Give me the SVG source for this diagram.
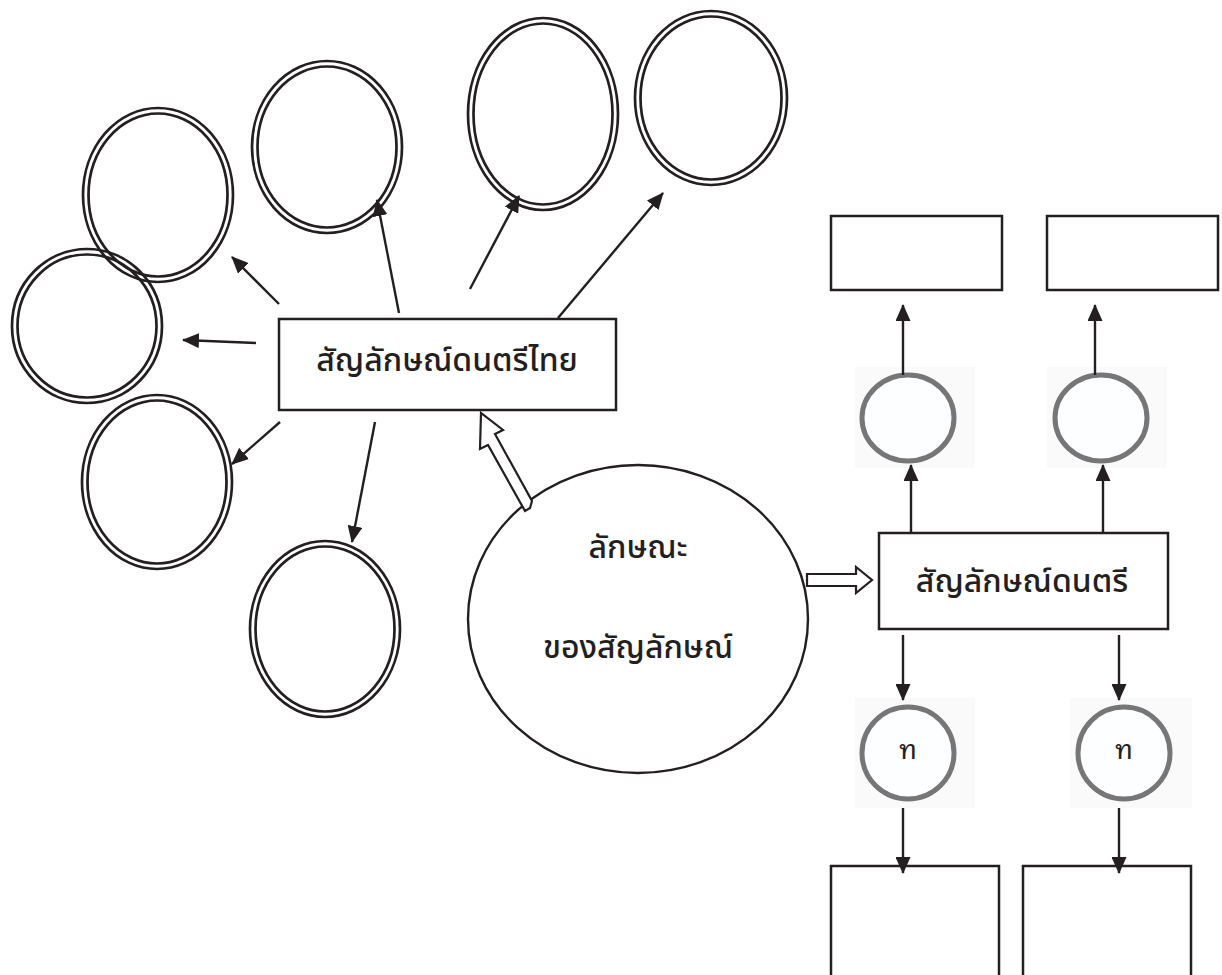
<svg xmlns="http://www.w3.org/2000/svg" width="1222" height="975" viewBox="0 0 1222 975">
<defs>
<style>
.dbl{fill:none;stroke:#231f20;stroke-width:2.7}
.box{fill:#fff;stroke:#231f20;stroke-width:2.5}
.big{fill:#fff;stroke:#231f20;stroke-width:2.4}
.gc{fill:#fdfeff;stroke:#767676;stroke-width:5}
.bg{fill:#fafafa}
.con{fill:none;stroke:#231f20;stroke-width:2.4}
.hol{fill:#fff;stroke:#231f20;stroke-width:2.2}
.t{font-family:"Noto Sans Thai","Noto Sans","Liberation Sans",sans-serif;fill:#231f20;text-anchor:middle;font-weight:500}
.s{font-family:"Noto Sans Thai Looped","Noto Serif Thai","Noto Sans Thai","Noto Sans",sans-serif;fill:#231f20;text-anchor:middle;font-weight:400;font-size:27px}
</style>
<marker id="ah" markerUnits="userSpaceOnUse" markerWidth="17" markerHeight="15" refX="16" refY="7.5" orient="auto">
<path d="M0,0 L17,7.5 L0,15 Z" fill="#231f20"/>
</marker>
</defs>
<rect width="1222" height="975" fill="#fff"/>

<g id="e1"><ellipse class="dbl" cx="158" cy="195" rx="75" ry="87"/><ellipse class="dbl" cx="158" cy="195" rx="69.5" ry="81.5"/></g>
<g id="e2"><ellipse class="dbl" cx="87" cy="326" rx="75" ry="77"/><ellipse class="dbl" cx="87" cy="326" rx="69.5" ry="71.5"/></g>
<g id="e3"><ellipse class="dbl" cx="327" cy="147" rx="75" ry="86"/><ellipse class="dbl" cx="327" cy="147" rx="69.5" ry="80.5"/></g>
<g id="e4"><ellipse class="dbl" cx="543" cy="114" rx="75" ry="96"/><ellipse class="dbl" cx="543" cy="114" rx="69.5" ry="90.5"/></g>
<g id="e5"><ellipse class="dbl" cx="711" cy="98" rx="76" ry="87"/><ellipse class="dbl" cx="711" cy="98" rx="70.5" ry="81.5"/></g>
<g id="e6"><ellipse class="dbl" cx="157" cy="482" rx="75" ry="87"/><ellipse class="dbl" cx="157" cy="482" rx="69.5" ry="81.5"/></g>
<g id="e7"><ellipse class="dbl" cx="325" cy="629" rx="75" ry="88"/><ellipse class="dbl" cx="325" cy="629" rx="69.5" ry="82.5"/></g>

<g id="centerBox"><rect class="box" x="279" y="319" width="337" height="91"/><text class="t" x="447" y="371" font-size="32">สัญลักษณ์ดนตรีไทย</text></g>

<g id="bigCircle"><ellipse class="big" cx="638" cy="619" rx="170" ry="154"/><text class="t" x="638" y="558" font-size="32">ลักษณะ</text><text class="t" x="638" y="658" font-size="32">ของสัญลักษณ์</text></g>

<g id="rightBox"><rect class="box" x="879" y="533" width="289" height="96"/><text class="t" x="1022" y="592" font-size="32">สัญลักษณ์ดนตรี</text></g>

<g id="topBoxA"><rect class="box" x="831" y="216" width="171" height="74"/></g>
<g id="topBoxB"><rect class="box" x="1047" y="216" width="171" height="74"/></g>

<g id="gcA"><rect class="bg" x="855" y="367" width="120" height="101"/><ellipse class="gc" cx="908" cy="418" rx="46" ry="43"/></g>
<g id="gcB"><rect class="bg" x="1047" y="367" width="120" height="101"/><ellipse class="gc" cx="1101" cy="418" rx="46" ry="43"/></g>
<g id="gcC"><rect class="bg" x="855" y="698" width="120" height="110"/><ellipse class="gc" cx="908" cy="753" rx="46" ry="46"/><text class="s" x="908" y="759">ท</text></g>
<g id="gcD"><rect class="bg" x="1070" y="698" width="122" height="110"/><ellipse class="gc" cx="1124" cy="753" rx="46" ry="46"/><text class="s" x="1124" y="759">ท</text></g>

<g id="botBoxA"><path class="box" d="M831,980 L831,866 L999,866 L999,980"/></g>
<g id="botBoxB"><path class="box" d="M1023,980 L1023,866 L1191,866 L1191,980"/></g>

<g id="connectors">
<line class="con" x1="279" y1="304" x2="232" y2="257" marker-end="url(#ah)"/>
<line class="con" x1="256" y1="343" x2="183" y2="340" marker-end="url(#ah)"/>
<line class="con" x1="399" y1="313" x2="377" y2="200" marker-end="url(#ah)"/>
<line class="con" x1="470" y1="289" x2="519" y2="196" marker-end="url(#ah)"/>
<line class="con" x1="558" y1="318" x2="663" y2="193" marker-end="url(#ah)"/>
<line class="con" x1="280" y1="422" x2="232" y2="464" marker-end="url(#ah)"/>
<line class="con" x1="375" y1="422" x2="352" y2="542" marker-end="url(#ah)"/>
<line class="con" x1="903" y1="375" x2="903" y2="305" marker-end="url(#ah)"/>
<line class="con" x1="1095" y1="375" x2="1095" y2="305" marker-end="url(#ah)"/>
<line class="con" x1="911" y1="533" x2="911" y2="465" marker-end="url(#ah)"/>
<line class="con" x1="1103" y1="533" x2="1103" y2="465" marker-end="url(#ah)"/>
<line class="con" x1="903" y1="635" x2="903" y2="700" marker-end="url(#ah)"/>
<line class="con" x1="1119" y1="635" x2="1119" y2="700" marker-end="url(#ah)"/>
<line class="con" x1="903" y1="808" x2="903" y2="873" marker-end="url(#ah)"/>
<line class="con" x1="1119" y1="808" x2="1119" y2="873" marker-end="url(#ah)"/>
<path class="hol" d="M530,508 L525,511 L488,445 L480,449 L481,413 L503,430 L495,434 L532,501 Z"/>
<path class="hol" d="M807,574 L856,574 L856,567 L872,580 L856,593 L856,586 L807,586 Z"/>
</g>
</svg>
